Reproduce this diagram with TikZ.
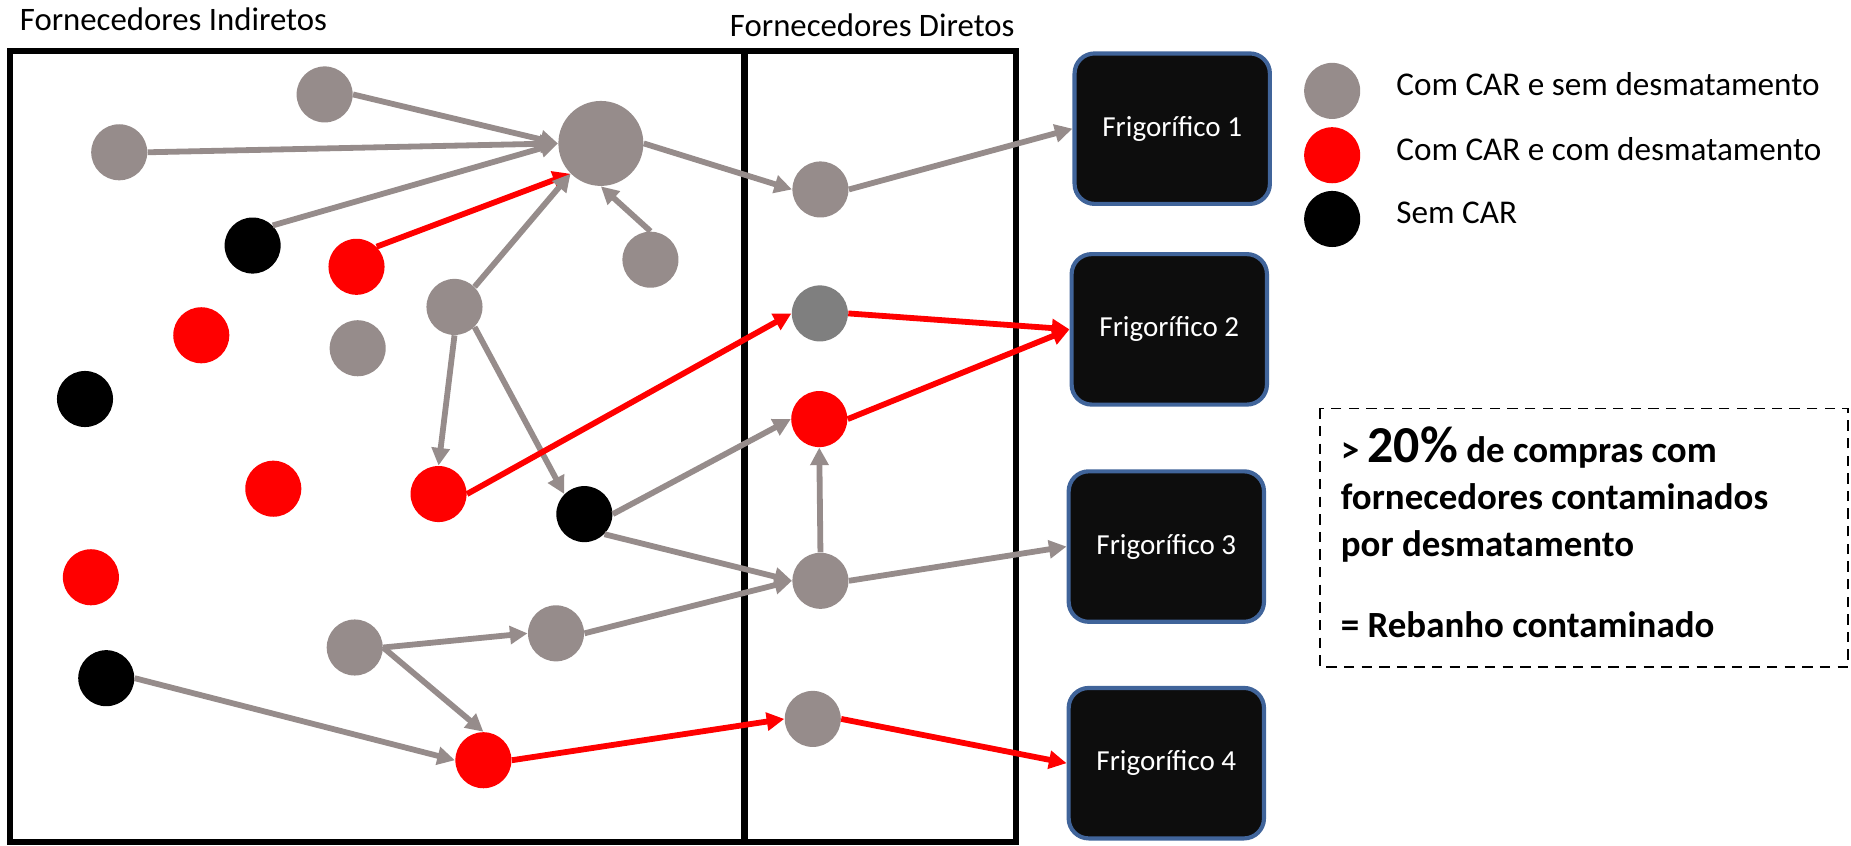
\documentclass[tikz,border=0pt]{standalone}
\usepackage{fontspec}
\setmainfont{Carlito}
\usetikzlibrary{arrows.meta}

\definecolor{fzGray}{HTML}{968C8B}
\definecolor{fzDarkGray}{HTML}{7F7F7F}
\definecolor{fzRed}{HTML}{FF0000}
\definecolor{fzBox}{HTML}{0D0D0D}
\definecolor{fzBorder}{HTML}{40649A}

\tikzset{
  farm/.style={circle, inner sep=0pt, minimum size=0.95cm},
  semDesm/.style={farm, fill=fzGray},
  comDesm/.style={farm, fill=fzRed},
  semCar/.style={farm, fill=black},
  grayLink/.style={draw=fzGray, line width=2.8pt, -{Triangle[length=8.5pt,width=8.5pt]}},
  redLink/.style={grayLink, draw=fzRed},
  colBox/.style={draw=black, line width=2.9pt},
  frigo/.style={draw=fzBorder, line width=2pt, fill=fzBox, rounded corners=0.34cm,
    minimum width=3.31cm, minimum height=2.55cm, text=white, font=\fontsize{14}{16}\selectfont},
  title/.style={anchor=base west, inner sep=0pt, font=\fontsize{15.8}{18}\selectfont},
  legendText/.style={anchor=mid west, inner sep=0pt, font=\fontsize{16}{18}\selectfont},
  noteLine/.style={anchor=base west, inner sep=0pt, font=\bfseries\fontsize{17.8}{20}\selectfont},
}

\begin{document}
\begin{tikzpicture}[x=0.02cm,y=-0.02cm]
  \useasboundingbox (0,0) rectangle (1568,716);

  % columns
  \draw[colBox] (8.5,43.5) rectangle (630.5,713);
  \draw[colBox] (631,43.5) rectangle (860.5,713);
  \node[title] (tIndir) at (16.5,26) {Fornecedores Indiretos};
  \node[title] (tDir) at (618,31) {Fornecedores Diretos};

  % indirect suppliers
  \node[semDesm] (n1) at (275,80) {};
  \node[semDesm] (n2) at (101,129) {};
  \node[semDesm, minimum size=1.44cm] (n3) at (509,121.5) {};
  \node[semCar] (n4) at (214,208) {};
  \node[comDesm] (n5) at (302,226) {};
  \node[semDesm] (n6) at (551,220) {};
  \node[semDesm] (n7) at (385,260) {};
  \node[comDesm] (n8) at (170.5,284) {};
  \node[semDesm] (n9) at (303,295) {};
  \node[semCar] (n10) at (72,338) {};
  \node[comDesm] (n11) at (231.5,414) {};
  \node[comDesm] (n12) at (371.5,418.5) {};
  \node[semCar] (n13) at (495,435.5) {};
  \node[comDesm] (n14) at (77,489) {};
  \node[semDesm] (n15) at (300.5,548.5) {};
  \node[semDesm] (n16) at (471,536.5) {};
  \node[semCar] (n17) at (90,574.5) {};
  \node[comDesm] (n18) at (409.5,644) {};

  % direct suppliers
  \node[semDesm] (d1) at (695,160.5) {};
  \node[farm, fill=fzDarkGray] (d2) at (694.5,265.5) {};
  \node[comDesm] (d3) at (694,355) {};
  \node[semDesm] (d4) at (695,492) {};
  \node[semDesm] (d5) at (688.5,609) {};

  % slaughterhouses
  \node[frigo] (f1) at (993,109) {Frigorífico 1};
  \node[frigo] (f2) at (990.5,279) {Frigorífico 2};
  \node[frigo] (f3) at (988,463) {Frigorífico 3};
  \node[frigo] (f4) at (988,646.5) {Frigorífico 4};

  % links
  \draw[grayLink] (n1.east) -- (n3.west);
  \draw[grayLink] (n2.east) -- (n3.west);
  \draw[grayLink] (n4.north east) -- (n3.west);
  \draw[redLink] (n5.north east) -- (n3.south west);
  \draw[grayLink] (n6.north) -- (n3.south);
  \draw[grayLink] (n7.north east) -- (n3.south west);
  \draw[grayLink] (n3.east) -- (d1.west);
  \draw[grayLink] (d1.east) -- (f1.west);
  \draw[grayLink] (n7.south) -- (n12.north);
  \draw[grayLink] (n7.south east) -- (n13.north west);
  \draw[redLink] (n12.east) -- (d2.west);
  \draw[redLink] (d2.east) -- (f2.west);
  \draw[grayLink] (n13.east) -- (d3.west);
  \draw[grayLink] (n13.south east) -- (d4.west);
  \draw[redLink] (d3.east) -- (f2.west);
  \draw[grayLink] (d4.north) -- (d3.south);
  \draw[grayLink] (d4.east) -- (f3.west);
  \draw[grayLink] (n16.east) -- (d4.west);
  \draw[grayLink] (n15.east) -- (n16.west);
  \draw[grayLink] (n15.east) -- (n18.north);
  \draw[grayLink] (n17.east) -- (n18.west);
  \draw[redLink] (n18.east) -- (d5.west);
  \draw[redLink] (d5.east) -- (f4.west);

  % legend
  \node[semDesm] (lg1) at (1128.5,77) {};
  \node[comDesm] (lg2) at (1128.5,131.5) {};
  \node[semCar] (lg3) at (1128.5,185.5) {};
  \node[legendText] (lt1) at (1182.5,77) {Com CAR e sem desmatamento};
  \node[legendText] (lt2) at (1182.5,131.5) {Com CAR e com desmatamento};
  \node[legendText] (lt3) at (1182.5,185.5) {Sem CAR};

  % note
  \draw[line width=0.9pt, dash pattern=on 5pt off 3.5pt] (1118.5,346) rectangle (1565.5,565);
  \node[noteLine] (note1) at (1135.5,392) {> {\fontsize{25}{25}\selectfont 20\%} de compras com};
  \node[noteLine] (note2) at (1135.5,432) {fornecedores contaminados};
  \node[noteLine] (note3) at (1135.5,471.5) {por desmatamento};
  \node[noteLine] (note4) at (1135.5,540) {= Rebanho contaminado};
\end{tikzpicture}
\end{document}
